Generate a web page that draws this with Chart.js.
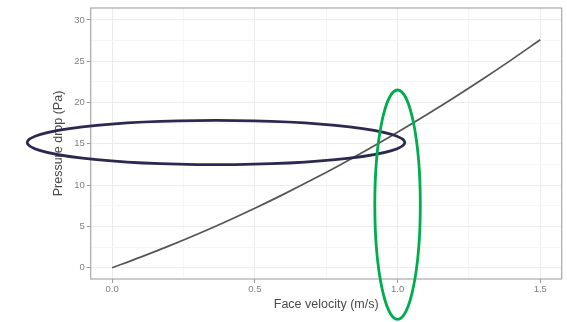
<!DOCTYPE html>
<html>
<head>
<meta charset="utf-8">
<title>Pressure drop vs face velocity</title>
<script src="https://cdn.jsdelivr.net/npm/chart.js@4/dist/chart.umd.min.js"></script>
<style>
  html, body { margin: 0; padding: 0; background: #ffffff; }
  #wrap { width: 567px; height: 322px; position: relative; }
</style>
</head>
<body>
<div id="wrap"><canvas id="chart"></canvas></div>
<script>
// Face velocity (m/s) and the measured pressure drop (Pa)
const faceVelocity = [0.0, 0.1, 0.2, 0.3, 0.4, 0.5, 0.6, 0.7, 0.8, 0.9, 1.0, 1.1, 1.2, 1.3, 1.4, 1.5];
const pressureDrop = [0.0, 1.28, 2.64, 4.08, 5.6, 7.2, 8.88, 10.64, 12.48, 14.4, 16.4, 18.48, 20.64, 22.88, 25.2, 27.6];

// Axis ticks (major ticks get labels, the in-between ones are minor grid lines)
const xTicks = [0.0, 0.25, 0.5, 0.75, 1.0, 1.25, 1.5];
const xMajor = [0.0, 0.5, 1.0, 1.5];
const yTicks = [0, 2.5, 5, 7.5, 10, 12.5, 15, 17.5, 20, 22.5, 25, 27.5, 30];
const yMajor = [0, 5, 10, 15, 20, 25, 30];

// Highlight rings, in data units: centre velocity, centre pressure, half-width, half-height
const ringAt15Pa = { cx: 0.364, cy: 15.16, rx: 0.6615, ry: 2.69, color: '#2b2950' };
const ringAt1ms = { cx: 1.0, cy: 7.63, rx: 0.0797, ry: 13.89, color: '#00ad4e' };
const rings = [ringAt15Pa, ringAt1ms];

const FONT = '"Liberation Sans", Arial, Helvetica, sans-serif';
const GRID_MAJOR = '#ececec';
const GRID_MINOR = '#f6f6f6';
const isMajor = (list, v) => list.some(m => Math.abs(m - v) < 1e-9);

const panelBorder = {
  id: 'panelBorder',
  beforeDatasetsDraw(chart) {
    const { ctx, chartArea: a } = chart;
    ctx.save();
    ctx.strokeStyle = '#a8a8a8';
    ctx.lineWidth = 1.2;
    ctx.strokeRect(a.left, a.top, a.right - a.left, a.bottom - a.top);
    ctx.restore();
  }
};

const ringPlugin = {
  id: 'rings',
  afterDatasetsDraw(chart) {
    const { ctx } = chart;
    const xs = chart.scales.x, ys = chart.scales.y;
    ctx.save();
    rings.forEach(r => {
      const cx = xs.getPixelForValue(r.cx);
      const cy = ys.getPixelForValue(r.cy);
      const rx = Math.abs(xs.getPixelForValue(r.cx + r.rx) - cx);
      const ry = Math.abs(ys.getPixelForValue(r.cy + r.ry) - cy);
      ctx.beginPath();
      ctx.ellipse(cx, cy, rx, ry, 0, 0, Math.PI * 2);
      ctx.strokeStyle = r.color;
      ctx.lineWidth = 2.8;
      ctx.stroke();
    });
    ctx.restore();
  }
};

new Chart(document.getElementById('chart'), {
  type: 'line',
  data: {
    datasets: [{
      data: faceVelocity.map((v, i) => ({ x: v, y: pressureDrop[i] })),
      borderColor: '#555555',
      borderWidth: 1.7,
      pointRadius: 0,
      tension: 0.4,
      cubicInterpolationMode: 'monotone',
      fill: false
    }]
  },
  options: {
    responsive: true,
    maintainAspectRatio: false,
    animation: false,
    events: [],
    layout: { padding: { top: 8, right: 5.3, left: 0, bottom: 0 } },
    plugins: { legend: { display: false }, tooltip: { enabled: false } },
    scales: {
      x: {
        type: 'linear',
        min: -0.075,
        max: 1.575,
        afterBuildTicks: s => { s.ticks = xTicks.map(v => ({ value: v })); },
        afterFit: s => { s.height = 43; },
        border: { display: false },
        grid: {
          color: c => isMajor(xMajor, c.tick.value) ? GRID_MAJOR : GRID_MINOR,
          tickColor: c => isMajor(xMajor, c.tick.value) ? '#9a9a9a' : 'rgba(0,0,0,0)',
          tickLength: 4,
          lineWidth: 1
        },
        ticks: {
          autoSkip: false,
          maxRotation: 0,
          padding: 1,
          color: '#808080',
          font: { family: FONT, size: 9.5 },
          callback: v => isMajor(xMajor, v) ? v.toFixed(1) : ''
        },
        title: {
          display: true,
          text: 'Face velocity (m/s)',
          color: '#4a4a4a',
          font: { family: FONT, size: 12.5 },
          padding: { top: 0, bottom: 9.5 }
        }
      },
      y: {
        type: 'linear',
        min: -1.37,
        max: 31.45,
        afterBuildTicks: s => { s.ticks = yTicks.map(v => ({ value: v })); },
        afterFit: s => { s.width = 90.7; },
        border: { display: false },
        grid: {
          color: c => isMajor(yMajor, c.tick.value) ? GRID_MAJOR : GRID_MINOR,
          tickColor: c => isMajor(yMajor, c.tick.value) ? '#9a9a9a' : 'rgba(0,0,0,0)',
          tickLength: 4,
          lineWidth: 1
        },
        ticks: {
          autoSkip: false,
          padding: 2,
          color: '#808080',
          font: { family: FONT, size: 9.5 },
          callback: v => isMajor(yMajor, v) ? String(v) : ''
        },
        title: {
          display: true,
          text: 'Pressure drop (Pa)',
          color: '#4a4a4a',
          font: { family: FONT, size: 12.5 },
          padding: { top: 51.5, bottom: 0 }
        }
      }
    }
  },
  plugins: [panelBorder, ringPlugin]
});
</script>
</body>
</html>
